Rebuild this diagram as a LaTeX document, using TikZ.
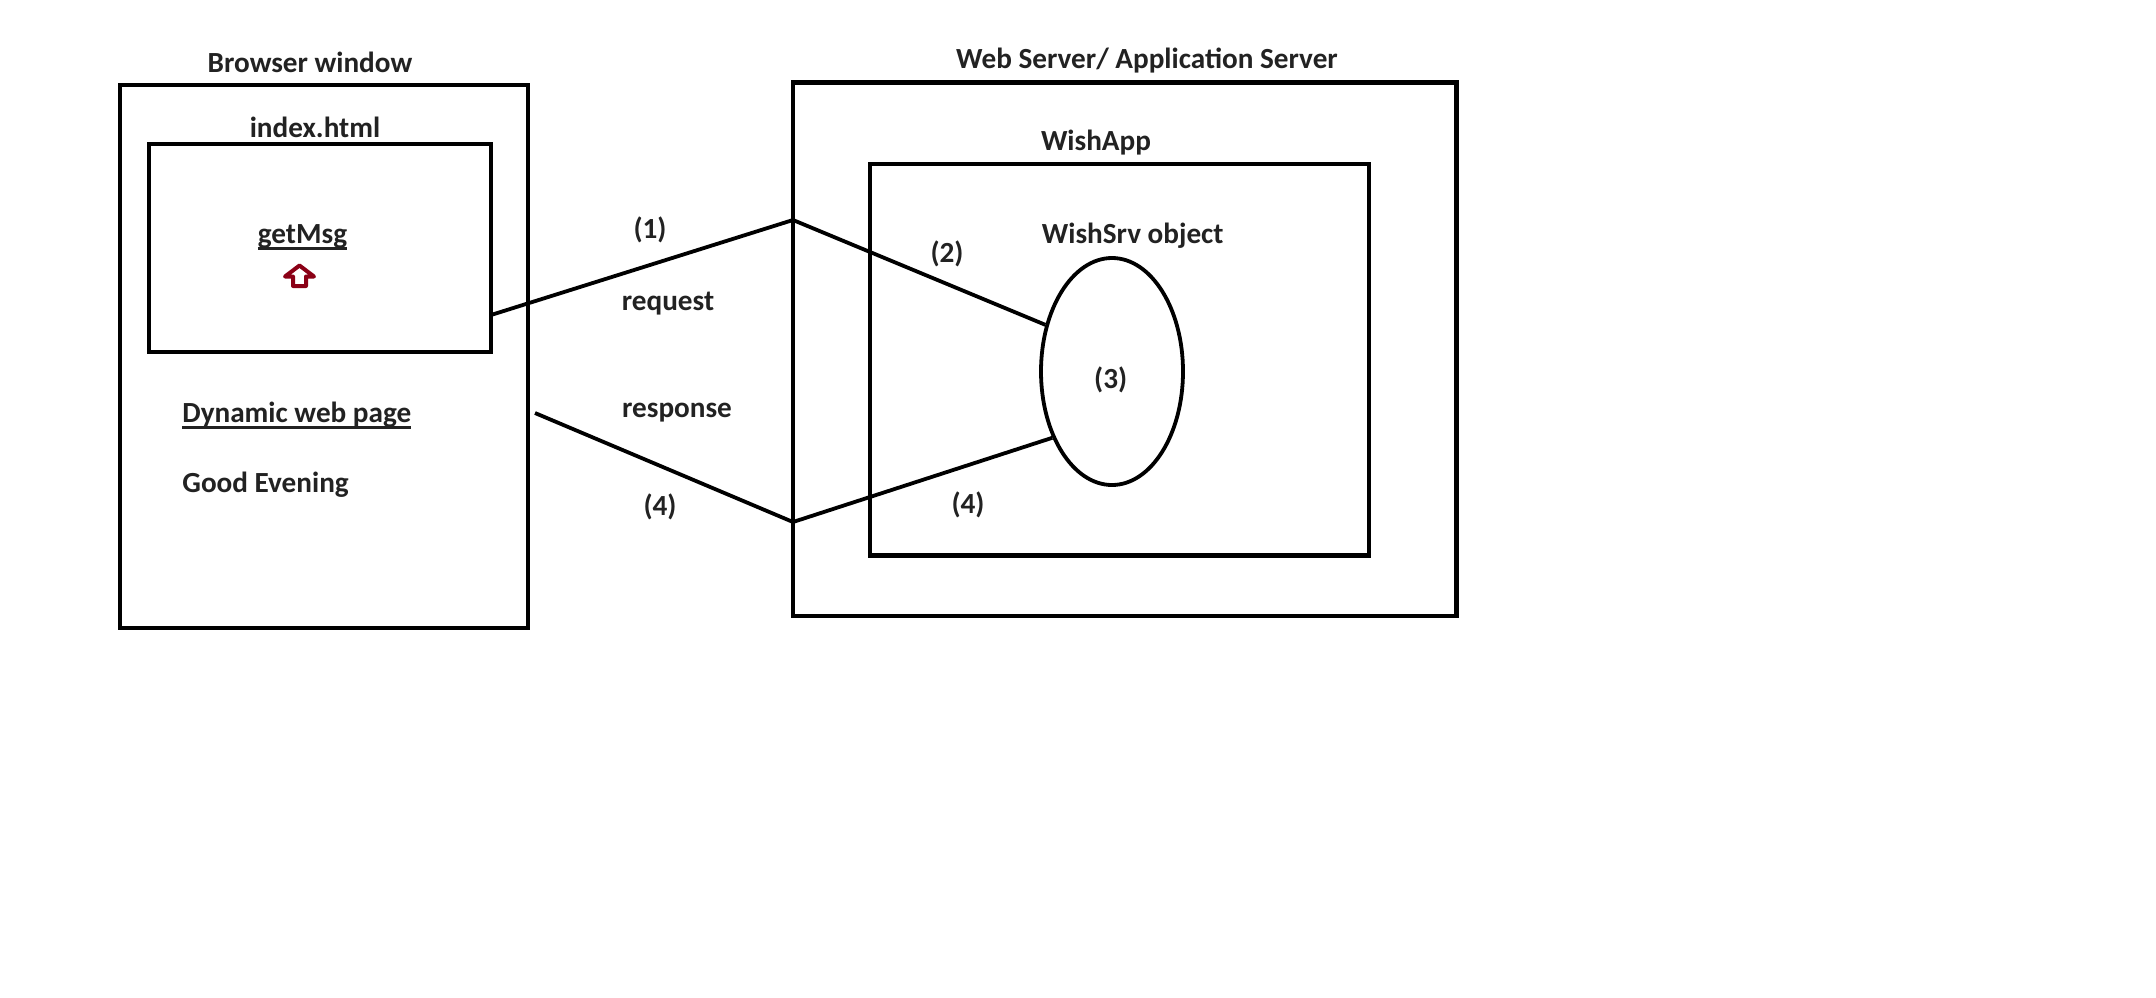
\documentclass[tikz,border=0pt]{standalone}
\usepackage{fontspec}
\setmainfont{Carlito}
\usetikzlibrary{shapes.geometric}
\definecolor{txt}{RGB}{34,34,34}
\definecolor{arrowred}{RGB}{139,0,22}
\newcommand{\myul}[1]{\setbox0\hbox{#1}\leavevmode\rlap{\rule[-3.3pt]{\wd0}{1.2pt}}\box0}
\begin{document}
\begin{tikzpicture}[x=0.5pt,y=-0.5pt,
  box/.style={draw, line width=2.2pt, rectangle, inner sep=0pt},
  obj/.style={draw, line width=1.9pt, ellipse, inner sep=0pt},
  conn/.style={line width=1.9pt, line join=miter},
  lbl/.style={font=\bfseries\fontsize{14.6}{17}\selectfont, text=txt, inner sep=0pt}]
\fill[white] (0,0) rectangle (2156,997);
\useasboundingbox (0,0) rectangle (2156,997);

% boxes
\node[box, minimum width=204pt, minimum height=271.5pt] (browser) at (324,356.5) {};
\node[box, minimum width=171pt, minimum height=104pt] (index) at (320,248) {};
\node[box, minimum width=331.75pt, minimum height=266.75pt] (web) at (1124.75,349.25) {};
\node[box, minimum width=249.5pt, minimum height=195.75pt] (app) at (1119.5,359.75) {};
\node[obj, minimum width=71pt, minimum height=113.5pt] (srv) at (1112,371.5) {};

% titles
\node[lbl] (tbrowser) at (310,62) {Browser window};
\node[lbl] (tindex) at (315,127) {index.html};
\node[lbl] (tweb) at (1147,60.5) {Web Server/ Application Server};
\node[lbl] (tapp) at (1096,143) {WishApp};
\node[lbl] (tsrv) at (1132.7,236) {WishSrv object};
\node[lbl] (n3) at (1110.7,380) {(3)};

% browser contents
\node[lbl, anchor=base] (getmsg) at (302.5,243) {\myul{getMsg}};
\node[lbl, anchor=base west] (dyn) at (182,422) {\myul{Dynamic web page}};
\node[lbl, anchor=base west] (good) at (182,492) {Good Evening};

% red outlined up arrow
\draw[arrowred, fill=white, line width=2pt, line join=round]
  (299.5,265.5) -- (314,276.5) -- (306,276.5) -- (306,286) -- (293,286)
  -- (293,276.5) -- (285,276.5) -- cycle;

% connectors
\coordinate (reqA) at (491,315);
\coordinate (reqB) at (793,220);
\coordinate (resA) at (535,413);
\coordinate (resB) at (793,522);
\draw[conn] (reqA) -- (reqB) -- (srv.145);
\draw[conn] (resA) -- (resB) -- (srv.228);

% connector labels
\node[lbl] (n1) at (650,230) {(1)};
\node[lbl, anchor=base] (req) at (668,310) {request};
\node[lbl, anchor=base] (resp) at (677,417) {response};
\node[lbl] (n4a) at (660,507) {(4)};
\node[lbl] (n2) at (947,254) {(2)};
\node[lbl] (n4b) at (968,505) {(4)};
\end{tikzpicture}
\end{document}
